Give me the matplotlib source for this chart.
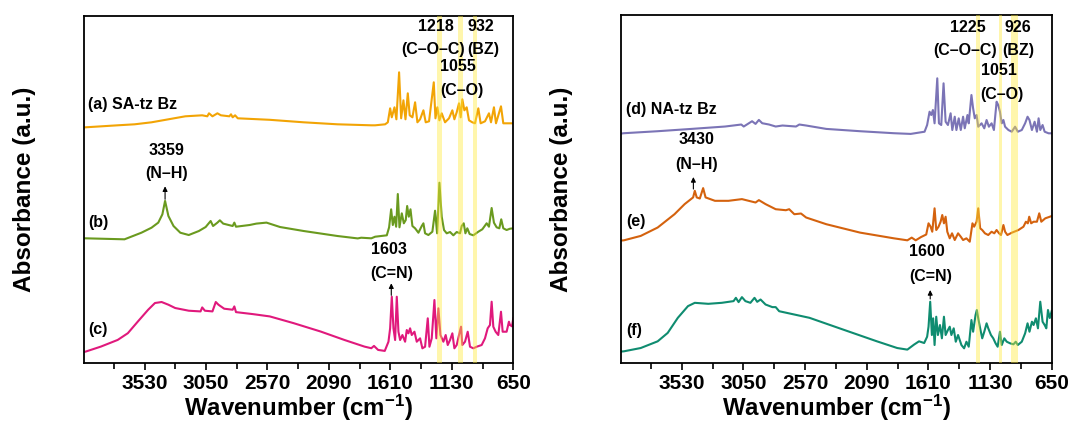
import matplotlib
matplotlib.use('Agg')
import matplotlib.pyplot as plt
from matplotlib.ticker import FixedLocator

plt.rcParams['font.family'] = ['Liberation Sans', 'DejaVu Sans']
plt.rcParams['font.weight'] = 'bold'
plt.rcParams['mathtext.fontset'] = 'custom'
plt.rcParams['mathtext.rm'] = 'Liberation Sans:bold'
plt.rcParams['mathtext.bf'] = 'Liberation Sans:bold'
plt.rcParams['mathtext.default'] = 'rm'

# spectra: (wavenumber, absorbance offset units)
spec_a = [(4000, 236), (3991, 236), (3740, 238), (3608, 239), (3476, 241), (3344, 244), (3212, 247),
          (3080, 248), (3040, 247), (3027, 250), (3000, 247), (2961, 250), (2934, 248), (2868, 247),
          (2855, 249), (2842, 246), (2823, 248), (2802, 245), (2552, 243.5), (2287, 241), (2023, 239),
          (1759, 238), (1729, 238), (1651, 239), (1630, 241), (1612, 255), (1599, 246), (1578, 256),
          (1563, 244), (1542, 291), (1526, 245), (1508, 263), (1492, 244), (1474, 270), (1459, 248),
          (1438, 246), (1417, 261), (1399, 241), (1378, 244), (1352, 253), (1334, 241), (1308, 242),
          (1271, 281), (1258, 245), (1243, 256), (1227, 243), (1209, 250), (1183, 241), (1152, 245),
          (1126, 253), (1110, 244), (1092, 251), (1074, 260), (1061, 246), (1048, 264), (1032, 253),
          (1014, 256), (996, 243), (970, 241), (949, 240), (923, 255), (905, 240), (871, 242),
          (840, 250), (824, 241), (801, 256), (785, 240), (746, 257), (728, 240), (676, 240), (650, 240)]

spec_b = [(4000, 125), (3991, 125), (3687, 124), (3555, 130.6), (3476, 135.6), (3423, 140.7),
          (3391, 149), (3370, 162.4), (3344, 147.3), (3304, 137.3), (3251, 130.6), (3185, 128.3),
          (3106, 132.3), (3053, 136.3), (3014, 142.3), (2995, 137.3), (2961, 140.7), (2942, 143),
          (2916, 139.7), (2842, 137.3), (2829, 140.7), (2816, 136.6), (2710, 138.3), (2657, 139.7),
          (2578, 140.7), (2472, 136.3), (2287, 132.3), (2023, 127.3), (1865, 124.9), (1838, 125.6),
          (1759, 125), (1729, 126.6), (1638, 128), (1620, 136), (1604, 154), (1591, 138.3),
          (1578, 146.6), (1565, 136.6), (1552, 169.3), (1539, 136), (1521, 150), (1505, 140),
          (1490, 143.3), (1479, 157.3), (1466, 146.6), (1453, 154), (1438, 137.3), (1417, 135),
          (1391, 130.6), (1365, 137.3), (1352, 140), (1339, 130), (1313, 128.3), (1282, 131.6),
          (1261, 152.6), (1245, 130), (1227, 180.6), (1209, 146.6), (1191, 133.3), (1170, 130),
          (1144, 131.3), (1118, 128), (1092, 131.3), (1066, 130), (1053, 137.3), (1037, 140),
          (1024, 130), (1009, 135), (991, 129.3), (962, 128), (923, 131.6), (892, 134), (858, 140),
          (840, 136.6), (819, 155.3), (801, 140.6), (780, 136), (759, 135), (744, 144), (728, 135),
          (702, 133.3), (676, 134.6), (650, 135)]

spec_c = [(4000, 11.5), (3991, 11.7), (3872, 16.7), (3740, 23.4), (3661, 30.1), (3582, 41.9),
          (3502, 53.6), (3449, 60.3), (3397, 61.3), (3344, 58.6), (3291, 55.3), (3185, 52.6),
          (3093, 51.9), (3080, 55.9), (3059, 52.6), (3000, 51.9), (2974, 61.3), (2953, 58.6),
          (2934, 56.9), (2908, 54.6), (2842, 53.6), (2829, 56.9), (2816, 51.2), (2684, 49.2),
          (2552, 46.9), (2367, 40.2), (2155, 31.8), (1970, 23.4), (1812, 16.7), (1759, 15.1),
          (1738, 17.4), (1706, 13.4), (1654, 12.4), (1625, 21.6), (1612, 35), (1599, 66.6),
          (1586, 35), (1573, 23.3), (1560, 66.6), (1547, 31.6), (1534, 23.3), (1516, 28.3),
          (1495, 21.6), (1482, 33.3), (1469, 30), (1456, 35), (1443, 28.3), (1422, 31.6),
          (1404, 21.6), (1378, 25), (1360, 15), (1339, 16.6), (1318, 45), (1305, 16.6), (1287, 25),
          (1266, 63.3), (1251, 25), (1235, 55), (1219, 28.3), (1196, 21.6), (1178, 28.3),
          (1162, 18.3), (1144, 23.3), (1126, 30), (1110, 15), (1092, 18.3), (1074, 28.3),
          (1058, 36.6), (1048, 18.3), (1027, 21.6), (1006, 31.6), (988, 16.6), (962, 15),
          (936, 16.6), (897, 18.3), (871, 25), (850, 35), (832, 38.3), (819, 61.6), (806, 36.6),
          (788, 31.6), (767, 28.3), (746, 51.6), (733, 31.6), (702, 31.6), (684, 41.6), (676, 38.3),
          (660, 37), (650, 45)]

spec_d = [(4000, 229.5), (3981, 229.8), (3718, 231.8), (3456, 234.1), (3193, 236.5), (3067, 238.5),
          (3048, 236.5), (2983, 241.8), (2956, 239.1), (2930, 243.1), (2904, 239.8), (2851, 238.5),
          (2799, 236.5), (2746, 237.5), (2641, 236.5), (2615, 238.5), (2562, 237.5), (2405, 234.1),
          (2142, 231.8), (1879, 229.8), (1748, 229.1), (1640, 231.3), (1620, 238), (1601, 251.3),
          (1588, 248), (1575, 253), (1562, 239.7), (1541, 284.7), (1528, 239.7), (1510, 238),
          (1492, 279.7), (1476, 241.3), (1458, 238), (1437, 249.7), (1424, 233), (1405, 246.3),
          (1392, 233), (1374, 244.7), (1358, 233), (1340, 246.3), (1327, 234.7), (1306, 248),
          (1296, 239.7), (1275, 268), (1262, 254.7), (1249, 244.7), (1235, 248), (1222, 236.3),
          (1196, 239.7), (1175, 234.7), (1157, 243), (1139, 236.3), (1118, 239.7), (1100, 233),
          (1079, 261.3), (1066, 258), (1053, 251.3), (1039, 239.7), (1026, 243), (1013, 236.3),
          (987, 233), (961, 231.3), (935, 236.3), (914, 231.3), (883, 233), (857, 239.7),
          (838, 246.3), (823, 243), (804, 233), (783, 241.3), (765, 231.3), (752, 244.7), (739, 233),
          (721, 238), (705, 231.3), (674, 229.7), (650, 229.7)]

spec_e = [(4000, 122.5), (3981, 122.7), (3850, 127.1), (3718, 135.5), (3587, 148.8), (3508, 158.9),
          (3442, 165.6), (3429, 172.2), (3414, 165.6), (3390, 164.5), (3364, 174.9), (3345, 165.6),
          (3272, 162.2), (3167, 162.2), (3062, 163.9), (3009, 162.2), (2956, 160.5), (2930, 162.9),
          (2878, 158.9), (2799, 153.8), (2720, 152.8), (2694, 153.8), (2654, 148.8), (2602, 149.5),
          (2562, 145.5), (2405, 138.8), (2142, 130.4), (1879, 124.7), (1774, 122.7), (1740, 125.4),
          (1709, 122.7), (1667, 126), (1627, 128.5), (1609, 139.7), (1593, 136.3), (1580, 131.3),
          (1562, 154.7), (1549, 133), (1531, 136.3), (1515, 141.3), (1502, 148), (1489, 139.7),
          (1476, 146.3), (1463, 131.3), (1444, 124.7), (1426, 129.7), (1405, 123), (1379, 129.7),
          (1358, 126.3), (1340, 123), (1314, 124.7), (1288, 121.3), (1267, 139.7), (1254, 136.3),
          (1235, 141.3), (1222, 154.7), (1207, 134.7), (1191, 133), (1170, 129.7), (1144, 128),
          (1118, 131.3), (1097, 129.7), (1079, 133), (1060, 129.7), (1045, 128), (1026, 138),
          (1013, 131.3), (995, 128), (961, 130.3), (909, 133), (870, 136.3), (851, 141.3),
          (836, 139.7), (825, 146.3), (810, 139.7), (791, 141.3), (765, 141.3), (747, 149.7),
          (731, 141.3), (700, 144.7), (671, 146), (650, 147)]

spec_f = [(4000, 11.5), (3981, 11.7), (3850, 15), (3718, 21.7), (3640, 30.1), (3561, 45.2),
          (3482, 56.9), (3429, 60.2), (3324, 59.2), (3219, 60.2), (3127, 61.9), (3109, 65.2),
          (3088, 60.9), (3062, 65.9), (3035, 61.9), (2996, 60.2), (2964, 65.2), (2943, 61.2),
          (2917, 63.5), (2878, 58.5), (2825, 55.9), (2799, 55.9), (2772, 51.8), (2536, 45.2),
          (2273, 33.4), (2011, 21.7), (1853, 15), (1774, 13.4), (1722, 18.4), (1683, 21.7),
          (1643, 20), (1620, 26.3), (1609, 36.3), (1596, 61.3), (1583, 28), (1573, 44.7),
          (1562, 18), (1549, 46.3), (1536, 28), (1520, 38), (1505, 24.7), (1489, 46.3), (1476, 28),
          (1458, 33), (1444, 36.3), (1431, 28), (1413, 34.7), (1397, 21.3), (1379, 28), (1353, 18),
          (1332, 14.7), (1314, 21.3), (1296, 16.3), (1275, 43), (1262, 31.3), (1243, 48),
          (1233, 53), (1222, 44.7), (1207, 34.7), (1191, 24.7), (1175, 31.3), (1157, 39.7),
          (1144, 34.7), (1123, 28), (1105, 24.7), (1087, 19.7), (1071, 16.3), (1053, 31.3),
          (1039, 18), (1019, 24.7), (1000, 21.3), (974, 19.7), (948, 18.7), (930, 21.3), (914, 18),
          (883, 21.3), (857, 29.7), (838, 39.7), (823, 31.3), (804, 41.3), (791, 38), (773, 44.7),
          (757, 34.7), (739, 61.3), (721, 41.3), (705, 38), (692, 34.7), (679, 53), (665, 45),
          (650, 52)]

colors_left = ['#F2A405', '#6A9A1F', '#E0197C']
colors_right = ['#7B74B6', '#D4620E', '#0F8C70']

major_ticks = [3530, 3050, 2570, 2090, 1610, 1130, 650]
minor_ticks = [3770, 3290, 2810, 2330, 1850, 1370, 890]

bands_left = [(1208, 1247), (1045, 1079), (931, 962)]
bands_right = [(1212, 1243), (1034, 1061), (912, 969)]

# label text, wavenumber, height, ha
texts_left = [('(a) SA-tz Bz', 3975, 259, 'left'), ('(b)', 3970, 141, 'left'), ('(c)', 3970, 34, 'left'),
              ('3359', 3355, 213, 'center'), ('(N\u2013H)', 3360, 190, 'center'),
              ('1603', 1625, 114, 'center'), ('(C=N)', 1600, 90, 'center'),
              ('1218', 1255, 337, 'center'), ('(C\u2013O\u2013C)', 1275, 314, 'center'),
              ('932', 900, 337, 'center'), ('(BZ)', 888, 314, 'center'),
              ('1055', 1085, 297, 'center'), ('(C\u2013O)', 1052, 273, 'center')]
texts_right = [('(d) NA-tz Bz', 3965, 254, 'left'), ('(e)', 3960, 142, 'left'), ('(f)', 3960, 33, 'left'),
               ('3430', 3416, 224, 'center'), ('(N\u2013H)', 3416, 199, 'center'),
               ('1600', 1622, 112, 'center'), ('(C=N)', 1590, 87, 'center'),
               ('1225', 1305, 336, 'center'), ('(C\u2013O\u2013C)', 1322, 313, 'center'),
               ('926', 913, 336, 'center'), ('(BZ)', 907, 313, 'center'),
               ('1051', 1060, 293, 'center'), ('(C\u2013O)', 1040, 269, 'center')]

# arrows: wavenumber, tail height, head height
arrows_left = [(3370, 164, 177), (1603, 68, 80)]
arrows_right = [(3440, 174, 186), (1596, 64, 73)]


def draw_panel(ax, specs, colors, bands, texts, arrows, ytop):
    for spec, c in zip(specs, colors):
        x = [p[0] for p in spec]
        y = [p[1] for p in spec]
        ax.plot(x, y, color=c, lw=1.5, zorder=2)
    for lo, hi in bands:
        ax.axvspan(lo, hi, color='#FFEB3B', alpha=0.42, lw=0, zorder=3)
    for s, x, y, ha in texts:
        ax.text(x, y, s, ha=ha, va='center', fontsize=11.5, fontweight='bold', zorder=4)
    for x, y0, y1 in arrows:
        ax.annotate('', xy=(x, y1), xytext=(x, y0),
                    arrowprops=dict(arrowstyle='-|>', color='black', lw=0.8,
                                    mutation_scale=7, shrinkA=0, shrinkB=0))
    ax.set_xlim(4000, 650)
    ax.set_ylim(0, ytop)
    ax.xaxis.set_major_locator(FixedLocator(major_ticks))
    ax.xaxis.set_minor_locator(FixedLocator(minor_ticks))
    ax.set_xticklabels([str(t) for t in major_ticks])
    ax.set_yticks([])
    ax.tick_params(axis='x', which='major', direction='out', length=5, width=1.2,
                   labelsize=15, pad=3)
    ax.tick_params(axis='x', which='minor', direction='out', length=4, width=1.2)
    for lab in ax.get_xticklabels():
        lab.set_fontweight('bold')
    for sp in ax.spines.values():
        sp.set_linewidth(1.3)
    ax.set_xlabel('Wavenumber (cm$^{\u22121}$)', fontsize=17.3, fontweight='bold')
    ax.set_ylabel('Absorbance (a.u.)', fontsize=17.5, fontweight='bold')
    ax.xaxis.set_label_coords(0.5, -0.085)
    ax.xaxis.label.set_va('top')
    ax.yaxis.set_label_coords(-0.112, 0.5)


fig = plt.figure(figsize=(10.7, 4.29), dpi=100)
ax1 = fig.add_axes([0.0789, 0.1531, 0.4008, 0.8103])
ax2 = fig.add_axes([0.5808, 0.1538, 0.4021, 0.8112])

draw_panel(ax1, [spec_a, spec_b, spec_c], colors_left, bands_left, texts_left, arrows_left, 347.6)
draw_panel(ax2, [spec_d, spec_e, spec_f], colors_right, bands_right, texts_right, arrows_right, 348)

fig.savefig('out.png', dpi=100)
